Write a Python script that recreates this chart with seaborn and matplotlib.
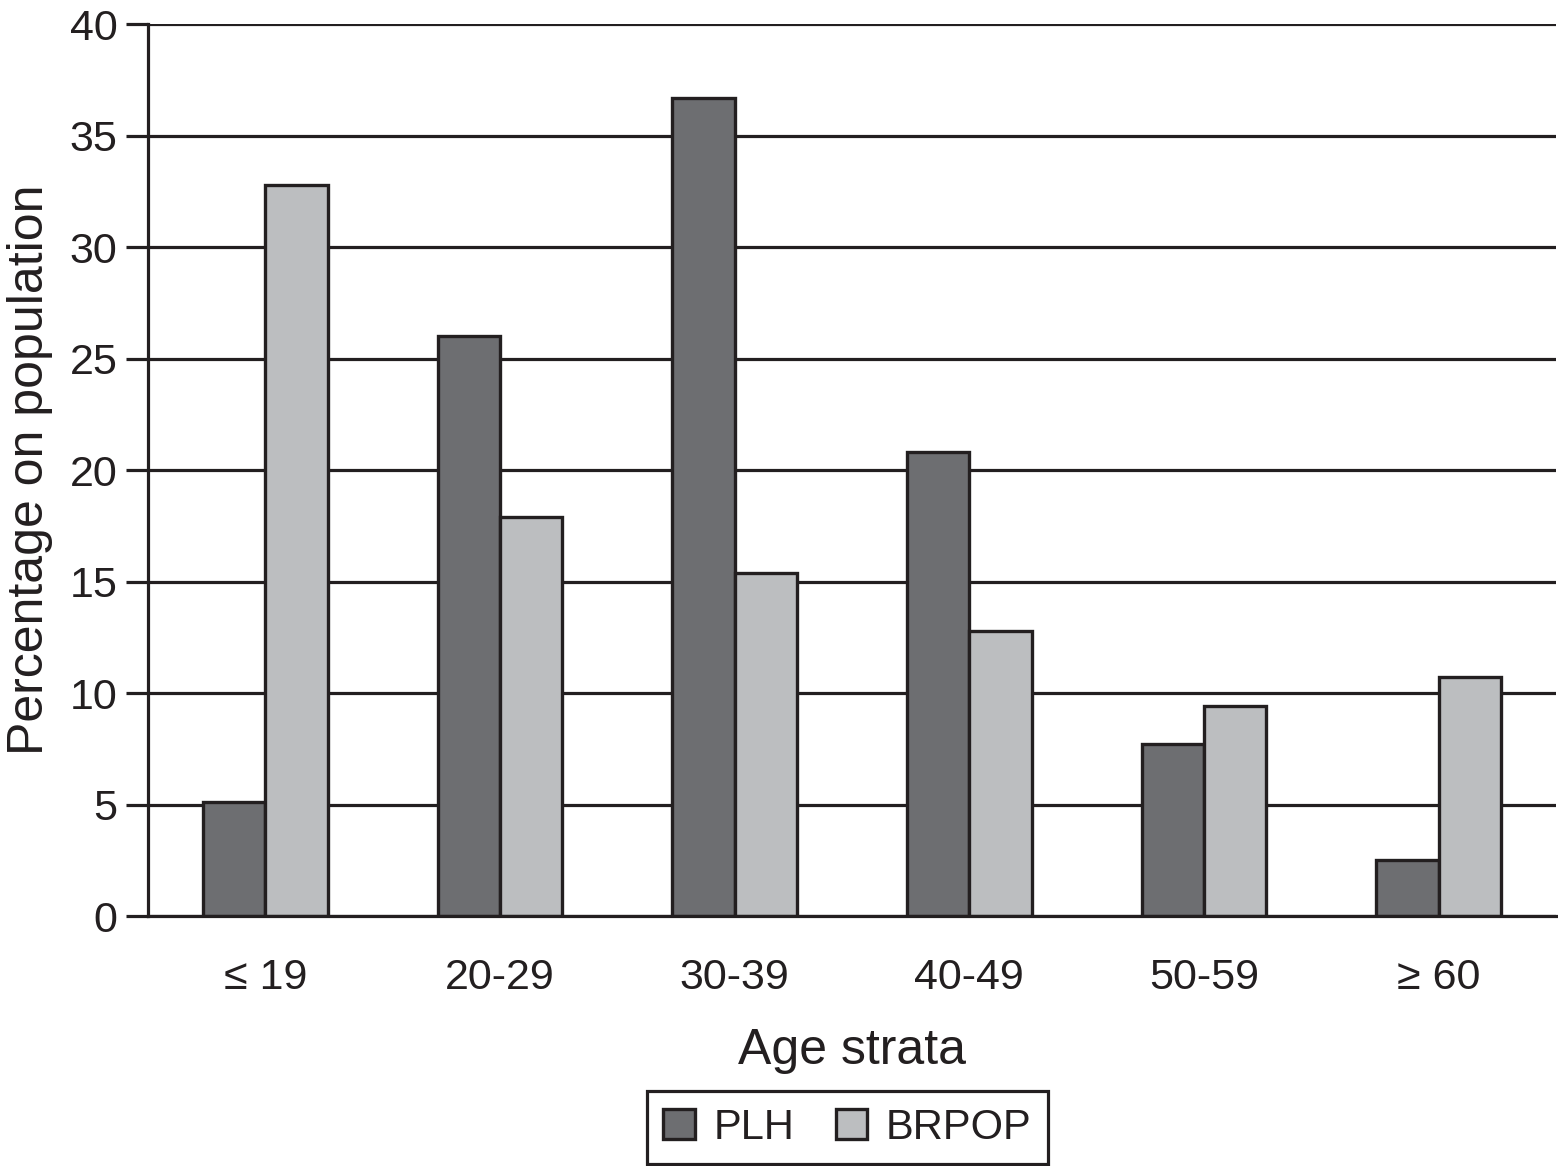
import pandas as pd
import matplotlib
matplotlib.use("Agg")
import matplotlib.pyplot as plt
import seaborn as sns

# --- DATA ---
age_strata = ["\u2264 19", "20-29", "30-39", "40-49", "50-59", "\u2265 60"]
plh = [5.1, 26.0, 36.7, 20.8, 7.7, 2.5]
brpop = [32.8, 17.9, 15.4, 12.8, 9.4, 10.7]
series_names = ["PLH", "BRPOP"]
colors = ["#6d6e71", "#bcbec0"]

df = pd.DataFrame({
    "age": age_strata * 2,
    "series": [series_names[0]] * len(plh) + [series_names[1]] * len(brpop),
    "value": plh + brpop,
})

sns.set_style("white")
plt.rcParams["font.family"] = ["Liberation Sans", "DejaVu Sans"]

fig = plt.figure(figsize=(15.58, 11.66), dpi=100)
ax = fig.add_axes([0.095, 0.2144, 0.9037, 0.765])

sns.barplot(data=df, x="age", y="value", hue="series", order=age_strata,
            hue_order=series_names, palette=colors, width=0.53, gap=0,
            edgecolor="#231f20", linewidth=2.4, saturation=1, ax=ax,
            legend=True)

# gridlines behind the bars
ax.set_axisbelow(True)
ax.yaxis.grid(True, color="#231f20", linewidth=2.3)
ax.set_ylim(0, 40)
ax.set_xlim(-0.5, len(age_strata) - 0.5)
ax.set_yticks(range(0, 41, 5))

# x ticks at category boundaries, labels at centers
ax.set_xticks([i - 0.5 for i in range(len(age_strata) + 1)])
ax.set_xticklabels([])
ax.set_xticks(range(len(age_strata)), minor=True)
ax.set_xticklabels(age_strata, minor=True)
ax.tick_params(axis="x", which="major", length=16, width=2.3, color="#231f20", direction="out")
ax.tick_params(axis="x", which="minor", length=0, labelsize=31, pad=30, labelcolor="#231f20")
ax.tick_params(axis="y", length=16, width=2.3, color="#231f20", labelsize=31,
               pad=6, labelcolor="#231f20", left=True)

for side in ["top", "right"]:
    ax.spines[side].set_visible(False)
for side in ["left", "bottom"]:
    ax.spines[side].set_color("#231f20")
    ax.spines[side].set_linewidth(2.3)

ax.set_xlabel("Age strata", fontsize=36, color="#231f20", labelpad=22)
ax.set_ylabel("Percentage on population", fontsize=36, color="#231f20", labelpad=12)

# legend in a box under the chart
handles, labels = ax.get_legend_handles_labels()
ax.get_legend().remove()
leg = fig.legend(handles, labels, loc="center", bbox_to_anchor=(0.544, 0.033),
                 ncol=2, fontsize=30, frameon=True, fancybox=False, framealpha=1,
                 edgecolor="#231f20", handlelength=0.75, handleheight=0.75,
                 columnspacing=1.0, handletextpad=0.45, borderpad=0.4)
leg.get_frame().set_linewidth(2.3)
for t in leg.get_texts():
    t.set_color("#231f20")

fig.savefig("out.png", dpi=100)
